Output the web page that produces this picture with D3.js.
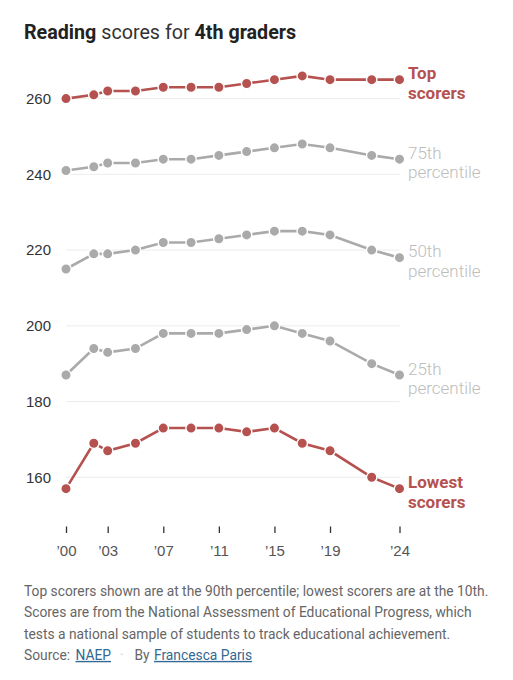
<!DOCTYPE html>
<html>
<head>
<meta charset="utf-8">
<script src="https://cdn.jsdelivr.net/npm/d3@7"></script>
<style>
  body { margin: 0; background: #fff; }
  svg { display: block; font-family: Roboto, "Noto Sans", sans-serif; }
  .grid line { stroke: #ececec; stroke-width: 1; }
  .y-axis text { font-size: 15px; fill: #333; font-weight: 300; }
  .x-axis text { font-size: 15px; fill: #555; font-weight: 300; }
  .x-axis .tick line { stroke: #333; stroke-width: 1.3; }
  .x-axis .domain, .y-axis .domain { display: none; }
  .note { font-size: 13.8px; fill: #666; }
  .link { fill: #326891; text-decoration: underline; }
</style>
</head>
<body>
<svg id="chart"></svg>
<script>
'use strict';

const years = [2000, 2002, 2003, 2005, 2007, 2009, 2011, 2013, 2015, 2017, 2019, 2022, 2024];
const top90 = [260, 261, 262, 262, 263, 263, 263, 264, 265, 266, 265, 265, 265];
const pct75 = [241, 242, 243, 243, 244, 244, 245, 246, 247, 248, 247, 245, 244];
const pct50 = [215, 219, 219, 220, 222, 222, 223, 224, 225, 225, 224, 220, 218];
const pct25 = [187, 194, 193, 194, 198, 198, 198, 199, 200, 198, 196, 190, 187];
const low10 = [157, 169, 167, 169, 173, 173, 173, 172, 173, 169, 167, 160, 157];

const seriesNames = [['Top', 'scorers'], ['75th', 'percentile'], ['50th', 'percentile'], ['25th', 'percentile'], ['Lowest', 'scorers']];
const yTicks = [160, 180, 200, 220, 240, 260];
const xTicks = [2000, 2003, 2007, 2011, 2015, 2019, 2024];

const noteLines = [
  'Top scorers shown are at the 90th percentile; lowest scorers are at the 10th.',
  'Scores are from the National Assessment of Educational Progress, which',
  'tests a national sample of students to track educational achievement.'
];

const red = '#b5524f';
const grey = '#aaaaaa';
const labelGrey = '#bdbdbd';

const W = 513, H = 680;
const svg = d3.select('#chart').attr('width', W).attr('height', H);

const x = d3.scaleLinear().domain([2000, 2024]).range([66, 399.5]);
const y = d3.scaleLinear().domain([160, 260]).range([477.3, 98.6]);

// title
const title = svg.append('text')
    .attr('x', 24)
    .attr('y', 38.5)
    .style('font-size', '19.7px')
    .style('fill', '#222');
title.append('tspan').attr('font-weight', 700).text('Reading');
title.append('tspan').attr('font-weight', 400).style('fill', '#333').text(' scores for ');
title.append('tspan').attr('font-weight', 700).text('4th graders');

// gridlines
svg.append('g')
    .attr('class', 'grid')
  .selectAll('line')
  .data(yTicks)
  .join('line')
    .attr('x1', x(2000))
    .attr('x2', x(2024))
    .attr('y1', d => y(d))
    .attr('y2', d => y(d));

svg.append('g')
    .attr('class', 'y-axis')
    .attr('transform', 'translate(51, 0)')
    .call(d3.axisLeft(y).tickValues(yTicks).tickSize(0).tickPadding(0));

svg.append('g')
    .attr('class', 'x-axis')
    .attr('transform', 'translate(0, 526.5)')
    .call(d3.axisBottom(x)
        .tickValues(xTicks)
        .tickSize(6.5)
        .tickPadding(12)
        .tickFormat(d => '\u2019' + String(d).slice(2)));

const series = [
  { values: top90, color: red, label: seriesNames[0], lcolor: red, bold: true },
  { values: pct75, color: grey, label: seriesNames[1], lcolor: labelGrey, bold: false },
  { values: pct50, color: grey, label: seriesNames[2], lcolor: labelGrey, bold: false },
  { values: pct25, color: grey, label: seriesNames[3], lcolor: labelGrey, bold: false },
  { values: low10, color: red, label: seriesNames[4], lcolor: red, bold: true }
];

const line = d3.line()
    .x((d, i) => x(years[i]))
    .y(d => y(d));

series.forEach(s => {
  const g = svg.append('g');

  g.append('path')
      .attr('d', line(s.values))
      .attr('fill', 'none')
      .attr('stroke', s.color)
      .attr('stroke-width', 2.6);

  g.selectAll('circle')
    .data(s.values)
    .join('circle')
      .attr('cx', (d, i) => x(years[i]))
      .attr('cy', d => y(d))
      .attr('r', 5.2)
      .attr('fill', s.color)
      .attr('stroke', '#fff')
      .attr('stroke-width', 1.4);

  const last = s.values[s.values.length - 1];
  const lbl = g.append('text')
      .attr('x', 408)
      .attr('y', y(last) - 0.5)
      .style('font-size', '17px')
      .style('font-weight', s.bold ? 700 : 300)
      .style('fill', s.lcolor);
  lbl.append('tspan').attr('x', 408).text(s.label[0]);
  lbl.append('tspan').attr('x', 408).attr('dy', 19.5).text(s.label[1]);
});

// notes
svg.append('g')
  .selectAll('text')
  .data(noteLines)
  .join('text')
    .attr('class', 'note')
    .attr('x', 24)
    .attr('y', (d, i) => 596 + i * 21.3)
    .text(d => d);

const src = svg.append('text')
    .attr('class', 'note')
    .attr('y', 596 + 3 * 21.3);
src.append('tspan').attr('x', 24).text('Source:');
src.append('tspan').attr('x', 75.5).attr('class', 'link').text('NAEP');
src.append('tspan').attr('x', 120).style('fill', '#ccc').text('\u00b7');
src.append('tspan').attr('x', 134.5).text('By');
src.append('tspan').attr('x', 154).attr('class', 'link').text('Francesca Paris');
</script>
</body>
</html>
